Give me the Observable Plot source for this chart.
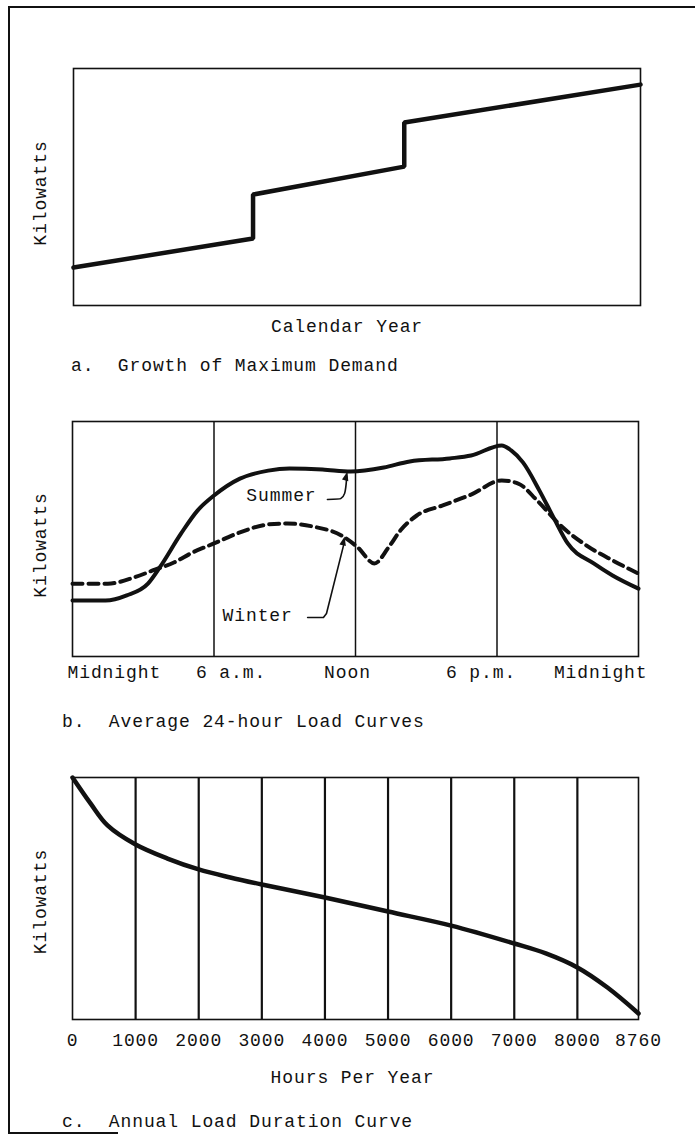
<!DOCTYPE html>
<html>
<head>
<meta charset="utf-8">
<script src="https://cdn.jsdelivr.net/npm/d3@7"></script>
<script src="https://cdn.jsdelivr.net/npm/@observablehq/plot@0.6"></script>
<style>
  html, body { margin: 0; padding: 0; background: #fff; overflow: hidden; }
  #page { position: relative; width: 695px; height: 1135px; font-family: "Liberation Mono", monospace; color: #111; }
  .rule { position: absolute; background: #111; }
  .cap { position: absolute; font-size: 18px; line-height: 20px; letter-spacing: 0.9px; white-space: pre; }
  .panel { position: absolute; left: 0; }
</style>
</head>
<body>
<div id="page">
  <div class="rule" style="left:8px;top:6px;width:2px;height:1128px"></div>
  <div class="rule" style="left:8px;top:6px;width:687px;height:2px"></div>
  <div class="rule" style="left:8px;top:1132px;width:110px;height:2px"></div>
  <div class="panel" id="pa" style="top:40px"></div>
  <div class="cap" style="left:71px;top:356px">a.  Growth of Maximum Demand</div>
  <div class="panel" id="pb" style="top:400px"></div>
  <div class="cap" style="left:62px;top:712px">b.  Average 24-hour Load Curves</div>
  <div class="panel" id="pc" style="top:760px"></div>
  <div class="cap" style="left:62px;top:1112px">c.  Annual Load Duration Curve</div>
</div>
<script>
// ---------- data ----------
// a. Growth of maximum demand (arbitrary year units, kW in % of frame)
const growthYears = [0, 9.5, 9.5, 17.5, 17.5, 30];
const growthKw    = [16.0, 28.3, 46.8, 58.6, 77.2, 93.2];

// b. Average 24-hour load curves
const hourTicks  = [0, 6, 12, 18, 24];
const hourLabels = ["Midnight", "6 a.m.", "Noon", "6 p.m.", "Midnight"];
const summerHours = [0, 1.4, 2.3, 3.2, 3.7, 4.6, 5.3, 6, 7.1, 8.3, 9.2, 10.6, 11.8, 13.2, 14.3, 16, 16.9, 18.2, 18.6, 19.1, 19.8, 20.4, 21, 22.1, 22.9, 24];
const summerKw    = [23.8, 23.8, 26, 31, 37.9, 52.3, 62.1, 68.5, 75.7, 79.1, 80, 79.6, 78.7, 80.4, 83, 84.3, 85.5, 89.8, 87.7, 82.6, 70.6, 59.1, 48.1, 39.6, 34.5, 28.9];
const winterHours = [0, 1.5, 2.6, 3.4, 4.3, 5.1, 6, 7.1, 8.3, 9.1, 10.2, 11.4, 12.1, 12.8, 13.4, 13.9, 14.6, 15.7, 16.9, 18.2, 18.9, 19.7, 20.7, 21.8, 22.9, 24];
const winterKw    = [31, 31, 33.6, 36.6, 40, 44.3, 48.1, 52.8, 56.2, 56.6, 55.3, 51.5, 46.4, 39.6, 46.4, 53.6, 60, 64.3, 68.9, 74.9, 73.6, 66.4, 55.7, 47.2, 40.9, 35.3];
const seriesNames = ["Summer", "Winter"];
const labelHours  = [8.86, 7.85];
const labelKw     = [68.5, 17.4];
const summerPointerHours = [10.81, 11.37, 11.54, 11.62];
const summerPointerKw    = [66.8, 67.2, 69.4, 75.5];
const summerTip = {h: 11.66, kw: 78.7};
const winterPointerHours = [9.97, 10.64, 10.77, 11.49];
const winterPointerKw    = [16.6, 16.6, 18.3, 47.2];
const winterTip = {h: 11.54, kw: 51.1};

// c. Annual load duration curve
const durationTicks = [0, 1000, 2000, 3000, 4000, 5000, 6000, 7000, 8000, 8760];
const durationHours = [0, 285, 555, 1000, 1505, 2000, 2500, 3000, 4000, 5000, 6000, 7000, 7500, 8000, 8374, 8760];
const durationKw    = [100, 89.3, 80.2, 72.3, 66.5, 62.0, 58.7, 55.8, 50.4, 44.6, 38.8, 31.4, 27.3, 21.5, 13.2, 2.5];

// ---------- helpers ----------
const W = 695;
const INK = "#111";
const svgStyle = {fontFamily: '"Liberation Mono", monospace', fontSize: "18px", letterSpacing: "0.9px", color: INK, background: "transparent", overflow: "visible"};
const zip = (xs, ys) => xs.map((x, i) => ({x, y: ys[i]}));
const arrowHead = {
  draw(ctx, size) {
    const L = Math.sqrt(size) * 1.6, w = L * 0.36;
    ctx.moveTo(0, 0); ctx.lineTo(w, L); ctx.lineTo(-w, L); ctx.closePath();
  }
};

// ---------- a ----------
const chartA = Plot.plot({
  width: W, height: 310, marginTop: 28, marginBottom: 45, marginLeft: 73, marginRight: 55,
  style: svgStyle,
  x: {domain: [0, 30], axis: null},
  y: {domain: [0, 100], axis: null},
  marks: [
    Plot.frame({stroke: INK, strokeWidth: 1.6}),
    Plot.line(zip(growthYears, growthKw), {x: "x", y: "y", stroke: INK, strokeWidth: 4.5, strokeLinejoin: "miter"}),
    Plot.text(["Kilowatts"], {text: d => d, frameAnchor: "left", textAnchor: "middle", lineAnchor: "middle", rotate: -90, dx: -33, dy: 6, fill: INK}),
    Plot.text(["Calendar Year"], {text: d => d, frameAnchor: "bottom", textAnchor: "middle", lineAnchor: "middle", dy: 21, dx: -10, fill: INK})
  ]
});
document.getElementById("pa").append(chartA);

// ---------- b ----------
const tickTextB = (i, anchor, dx) => Plot.text([i], {
  x: j => hourTicks[j], text: j => hourLabels[j], frameAnchor: "bottom",
  textAnchor: anchor, lineAnchor: "middle", dy: 16, dx, fill: INK
});
const chartB = Plot.plot({
  width: W, height: 290, marginTop: 21, marginBottom: 34, marginLeft: 72, marginRight: 57,
  style: svgStyle,
  x: {domain: [0, 24], axis: null},
  y: {domain: [0, 100], axis: null},
  marks: [
    Plot.ruleX(hourTicks.slice(1, -1), {stroke: INK, strokeWidth: 1.5}),
    Plot.frame({stroke: INK, strokeWidth: 1.6}),
    Plot.line(zip(summerHours, summerKw), {x: "x", y: "y", stroke: INK, strokeWidth: 4, curve: "monotone-x"}),
    Plot.line(zip(winterHours, winterKw), {x: "x", y: "y", stroke: INK, strokeWidth: 4, strokeDasharray: "10,6", curve: "monotone-x"}),
    Plot.line(zip(summerPointerHours, summerPointerKw), {x: "x", y: "y", stroke: INK, strokeWidth: 1.6, curve: "monotone-y"}),
    Plot.line(zip(winterPointerHours, winterPointerKw), {x: "x", y: "y", stroke: INK, strokeWidth: 1.6}),
    Plot.dot([summerTip], {x: "h", y: "kw", symbol: arrowHead, r: 3.2, fill: INK, stroke: "none", rotate: 15}),
    Plot.dot([winterTip], {x: "h", y: "kw", symbol: arrowHead, r: 3.2, fill: INK, stroke: "none", rotate: 13}),
    Plot.text(seriesNames, {x: (d, i) => labelHours[i], y: (d, i) => labelKw[i], text: d => d, textAnchor: "middle", lineAnchor: "middle", fill: INK}),
    Plot.text(["Kilowatts"], {text: d => d, frameAnchor: "left", textAnchor: "middle", lineAnchor: "middle", rotate: -90, dx: -32, dy: 6, fill: INK}),
    tickTextB(0, "start", -5),
    tickTextB(1, "middle", 17),
    tickTextB(2, "middle", -8),
    tickTextB(3, "middle", -16),
    tickTextB(4, "end", 9)
  ]
});
document.getElementById("pb").append(chartB);

// ---------- c ----------
const cL = 72, cR = W - 57;
const chartC = Plot.plot({
  width: W, height: 330, marginTop: 17, marginBottom: 71, marginLeft: cL, marginRight: W - cR,
  style: svgStyle,
  x: {type: "linear", domain: [0, 8000, 8760], range: [cL, cL + (cR - cL) * 0.892, cR], axis: null},
  y: {domain: [0, 100], axis: null},
  marks: [
    Plot.ruleX(durationTicks.slice(1, -1), {stroke: INK, strokeWidth: 2.2}),
    Plot.frame({stroke: INK, strokeWidth: 1.6}),
    Plot.line(zip(durationHours, durationKw), {x: "x", y: "y", stroke: INK, strokeWidth: 4.5, curve: "catmull-rom"}),
    Plot.text(durationTicks, {x: d => d, text: d => String(d), frameAnchor: "bottom", textAnchor: "middle", lineAnchor: "middle", dy: 21, fill: INK}),
    Plot.text(["Kilowatts"], {text: d => d, frameAnchor: "left", textAnchor: "middle", lineAnchor: "middle", rotate: -90, dx: -32, dy: 3, fill: INK}),
    Plot.text(["Hours Per Year"], {text: d => d, frameAnchor: "bottom", textAnchor: "middle", lineAnchor: "middle", dy: 58, dx: -3, fill: INK})
  ]
});
document.getElementById("pc").append(chartC);
</script>
</body>
</html>
